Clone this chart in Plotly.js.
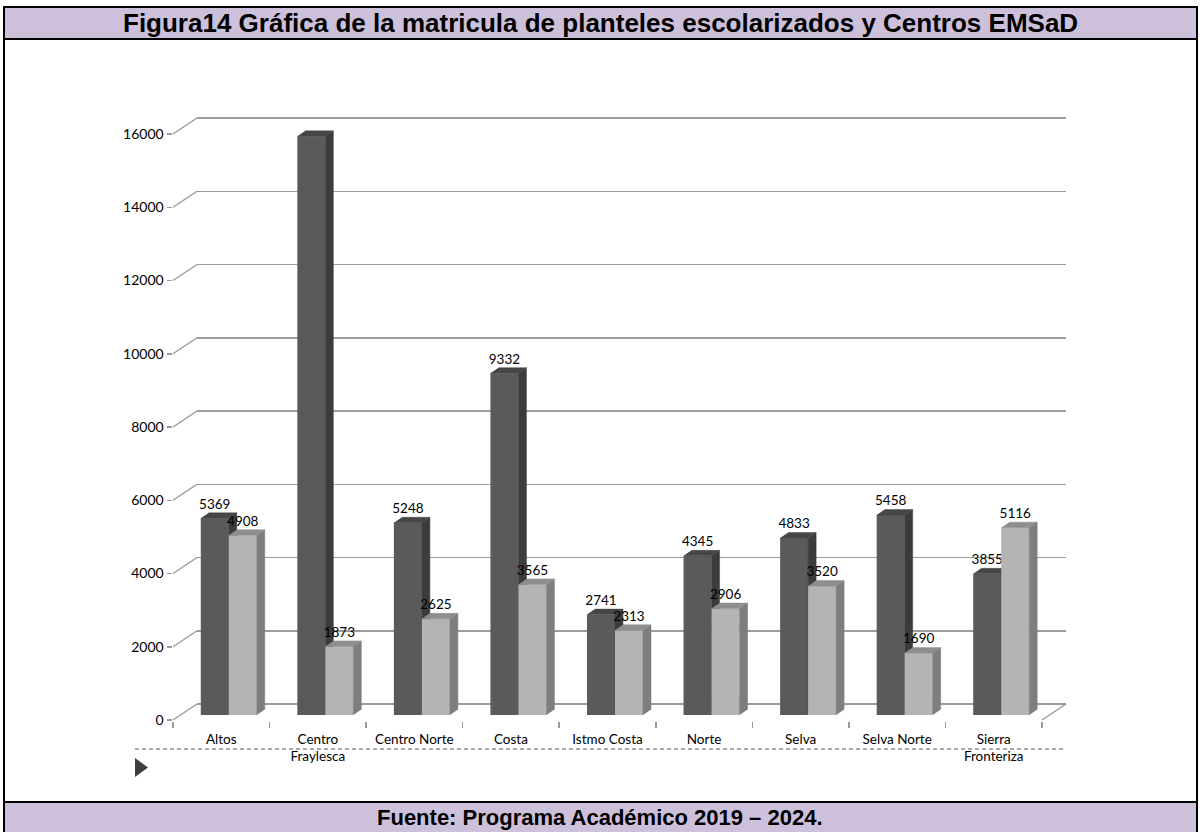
<!DOCTYPE html>
<html><head><meta charset="utf-8">
<script src="https://cdn.plot.ly/plotly-3.0.1.min.js"></script>
<style>html,body{margin:0;padding:0;background:#fff}#chart{width:1200px;height:832px}</style>
</head><body><div id="chart"></div>
<script>
// ---------- data ----------
const categories = ['Altos','Centro Fraylesca','Centro Norte','Costa','Istmo Costa','Norte','Selva','Selva Norte','Sierra Fronteriza'];
const tickLabels = ['Altos','Centro<br>Fraylesca','Centro Norte','Costa','Istmo Costa','Norte','Selva','Selva Norte','Sierra<br>Fronteriza'];
const escolarizados = [5369,15799,5248,9332,2741,4345,4833,5458,3855];
const emsad = [4908,1873,2625,3565,2313,2906,3520,1690,5116];
const yTicks = [0,2000,4000,6000,8000,10000,12000,14000,16000];
const titleText = 'Figura14 Gráfica de la matricula de planteles escolarizados y Centros EMSaD';
const sourceText = 'Fuente: Programa Académico 2019 – 2024.';

// ---------- geometry (pixels) ----------
const W = 1200, H = 832;
const PX = x => x / W, PY = y => 1 - y / H;
const YMAX = 16000;
const F = {x0: 173, x1: 1042, y0: 720, yTop: 134};   // front plane of the 3D box
const DEPTH = {dx: 24, dy: 16};                        // depth of the box
const BAR = {dx: 7.5, dy: 5};                          // front face of bars
const k = (F.y0 - F.yTop) / YMAX;
const slot = (F.x1 - F.x0) / categories.length;
const BW = 0.29;
const FACE_DX = 8 / slot, FACE_DY = 5.5 / k;
const PAD = 60;
const LABEL_OFF = 13 / k;
const backY = v => F.y0 - DEPTH.dy - v * k;
const frontY = v => F.y0 - v * k;
const idx = categories.map((_, i) => i);
const boundaries = categories.map((_, i) => i - 0.5).concat([categories.length - 0.5]);

const C = {
  darkFront: '#5a5a5a', darkSide: '#3c3c3c', darkTop: '#464646',
  lightFront: '#b4b4b4', lightSide: '#7e7e7e', lightTop: '#8e8e8e',
  grid: '#9c9c9c', band: '#ccc0da'
};

function faces(vals, x0, x1) {
  const side = {x: [], y: []}, top = {x: [], y: []};
  vals.forEach((v, i) => {
    const a = i + x0, b = i + x1;
    side.x.push(b, b, b + FACE_DX, b + FACE_DX, null);
    side.y.push(0, v, v + FACE_DY, FACE_DY, null);
    top.x.push(a, b, b + FACE_DX, a + FACE_DX, null);
    top.y.push(v, v, v + FACE_DY, v + FACE_DY, null);
  });
  return {side, top};
}
const dF = faces(escolarizados, -BW, 0);
const lF = faces(emsad, 0, BW);

function poly(p, color, z) {
  return {type: 'scatter', mode: 'lines', x: p.x, y: p.y, fill: 'toself', fillcolor: color,
    line: {width: 0.5, color: color}, xaxis: 'x3', yaxis: 'y3', hoverinfo: 'skip', zorder: z, connectgaps: false};
}
function labels(vals, xoff, z) {
  return {type: 'scatter', mode: 'text', x: idx.map(i => i + xoff), y: vals.map(v => v + LABEL_OFF),
    text: vals.map(String), textposition: 'middle center', cliponaxis: false,
    textfont: {family: 'Lato, sans-serif', size: 13.5, color: '#000'},
    xaxis: 'x3', yaxis: 'y3', hoverinfo: 'skip', zorder: z};
}
// carrier traces (draw nothing) so the back wall and front axes subplots exist
const carrier = (xa, ya) => ({type: 'scatter', mode: 'none', x: idx, y: escolarizados,
  xaxis: xa, yaxis: ya, hoverinfo: 'skip', showlegend: false});

const traces = [
  carrier('x', 'y'),
  carrier('x2', 'y2'),
  {type: 'bar', name: 'Planteles escolarizados', x: idx, y: escolarizados, hovertext: categories,
   width: BW, offset: -BW, marker: {color: C.darkFront, line: {width: 0}}, xaxis: 'x3', yaxis: 'y3', zorder: 0},
  poly(dF.side, C.darkSide, 0),
  poly(dF.top, C.darkTop, 0),
  labels(escolarizados, -BW / 2, 0),
  {type: 'bar', name: 'Centros EMSaD', x: idx, y: emsad, hovertext: categories,
   width: BW, offset: 0, marker: {color: C.lightFront, line: {width: 0}}, xaxis: 'x3', yaxis: 'y3', zorder: 1},
  poly(lF.side, C.lightSide, 1),
  poly(lF.top, C.lightTop, 1),
  labels(emsad, BW / 2, 1)
];

// ---------- shapes ----------
const shapes = [];
const line = (x0, y0, x1, y1, color, width, dash) => ({type: 'line', xref: 'paper', yref: 'paper',
  x0: PX(x0), y0: PY(y0), x1: PX(x1), y1: PY(y1), line: {color, width, dash: dash || 'solid'}});
// left wall connectors
yTicks.forEach(v => shapes.push(line(F.x0, frontY(v), F.x0 + DEPTH.dx, backY(v), C.grid, 1.5)));
// right floor connector
shapes.push(line(F.x1, F.y0, F.x1 + DEPTH.dx, F.y0 - DEPTH.dy, C.grid, 1.5));
// dashed separator and marker
shapes.push(line(135, 749, 1066, 749, '#8c8c8c', 1.3, '4px,3px'));
shapes.push({type: 'path', xref: 'paper', yref: 'paper',
  path: `M ${PX(135)} ${PY(758)} L ${PX(148)} ${PY(767.5)} L ${PX(135)} ${PY(777)} Z`,
  fillcolor: '#3f3f3f', line: {width: 0}});
// header / footer bands and borders
shapes.push({type: 'rect', xref: 'paper', yref: 'paper', x0: PX(4), x1: PX(1197), y0: PY(38), y1: PY(8),
  fillcolor: C.band, line: {width: 0}, layer: 'below'});
shapes.push({type: 'rect', xref: 'paper', yref: 'paper', x0: PX(4), x1: PX(1197), y0: PY(832), y1: PY(803),
  fillcolor: C.band, line: {width: 0}, layer: 'below'});
shapes.push(line(3, 7, 1198, 7, '#000', 2));
shapes.push(line(3, 39, 1198, 39, '#000', 2));
shapes.push(line(3, 802, 1198, 802, '#000', 2));
shapes.push(line(4, 6, 4, 832, '#000', 2));
shapes.push(line(1197, 6, 1197, 832, '#000', 2));

const layout = {
  width: W, height: H, margin: {l: 0, r: 0, t: 0, b: 0},
  paper_bgcolor: '#fff', plot_bgcolor: 'rgba(0,0,0,0)', showlegend: false, barmode: 'overlay',
  xaxis: {domain: [PX(F.x0 + DEPTH.dx), PX(F.x1 + DEPTH.dx)], range: [-0.5, 8.5], anchor: 'y',
    showticklabels: false, ticks: '', showgrid: false, zeroline: false, showline: false, fixedrange: true},
  yaxis: {domain: [PY(backY(-PAD)), PY(backY(YMAX + PAD))], range: [-PAD, YMAX + PAD], anchor: 'x',
    tickvals: yTicks, showticklabels: false, ticks: '', showgrid: true, gridcolor: C.grid, gridwidth: 1.5,
    zeroline: false, showline: false, fixedrange: true},
  xaxis2: {domain: [PX(F.x0), PX(F.x1)], range: [-0.5, 8.5], anchor: 'y2', tickvals: idx, ticktext: tickLabels,
    ticks: 'outside', ticklen: 6, tickcolor: 'rgba(0,0,0,0)', showline: true, linecolor: C.grid, linewidth: 1.5,
    showgrid: false, zeroline: false, tickfont: {family: 'Lato, sans-serif', size: 13.5, color: '#000'},
    minor: {tickvals: boundaries, ticks: 'outside', ticklen: 6, tickcolor: C.grid, tickwidth: 1.5, showgrid: false},
    fixedrange: true},
  yaxis2: {domain: [PY(F.y0), PY(F.yTop)], range: [0, YMAX], anchor: 'x2', tickvals: yTicks, tickformat: 'd',
    ticks: 'outside', ticklen: 5, tickcolor: C.grid, tickwidth: 1.5, showline: true, linecolor: C.grid, linewidth: 1.5,
    showgrid: false, zeroline: false, tickfont: {family: 'Lato, sans-serif', size: 14, color: '#000'}, fixedrange: true},
  xaxis3: {domain: [PX(F.x0 + BAR.dx), PX(F.x1 + BAR.dx)], range: [-0.5, 8.5], anchor: 'y3', visible: false, fixedrange: true},
  yaxis3: {domain: [PY(F.y0 - BAR.dy), PY(F.yTop - BAR.dy)], range: [0, YMAX], anchor: 'x3', visible: false, fixedrange: true},
  shapes: shapes,
  annotations: [
    {xref: 'paper', yref: 'paper', x: 0.5, y: PY(23), xanchor: 'center', yanchor: 'middle', showarrow: false,
     text: '<b>' + titleText + '</b>', font: {family: 'Liberation Sans, Arial, sans-serif', size: 26, color: '#000'}},
    {xref: 'paper', yref: 'paper', x: 0.5, y: PY(817), xanchor: 'center', yanchor: 'middle', showarrow: false,
     text: '<b>' + sourceText + '</b>', font: {family: 'Liberation Sans, Arial, sans-serif', size: 22, color: '#000'}}
  ]
};

Plotly.newPlot('chart', traces, layout, {displayModeBar: false, staticPlot: true});
</script>
</body></html>
